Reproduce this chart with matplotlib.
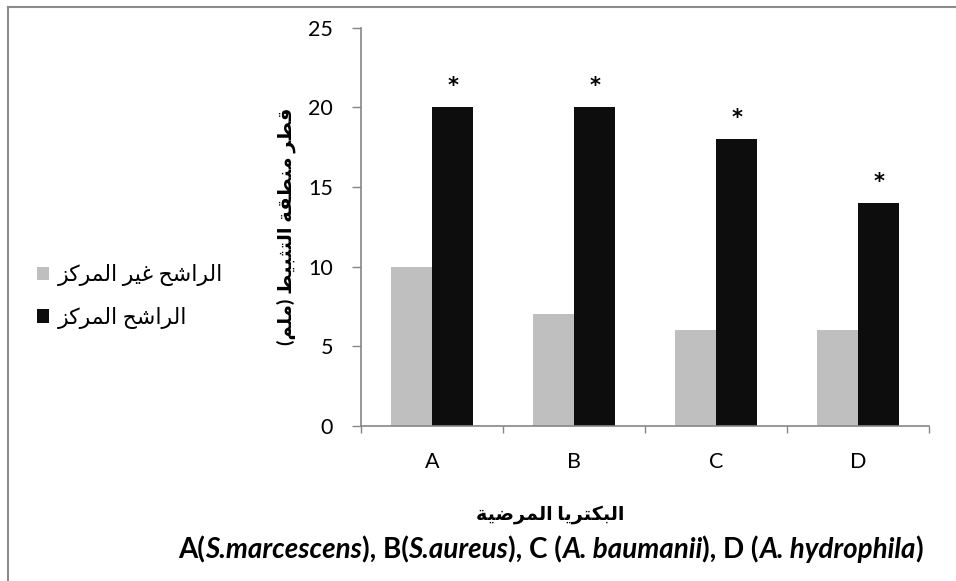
import matplotlib
matplotlib.use("Agg")
import matplotlib.pyplot as plt
from matplotlib.lines import Line2D

# ---- data ----
categories = ["A", "B", "C", "D"]
unconcentrated = [10, 7, 6, 6]
concentrated = [20, 20, 18, 14]
significant = ["*", "*", "*", "*"]

label_unconc = "الراشح غير المركز"
label_conc = "الراشح المركز"
y_title = "قطر منطقة التثبيط (ملم)"
x_title = "البكتريا المرضية"
x_subtitle = [("A(", "normal"), ("S.marcescens", "italic"), ("), B(", "normal"),
              ("S.aureus", "italic"), ("), C (", "normal"), ("A. baumanii", "italic"),
              ("), D (", "normal"), ("A. hydrophila", "italic"), (")", "normal")]

# Arabic presentation forms: (isolated, final, initial, medial)
FORMS = {
    'ا': ('\uFE8D', '\uFE8E', None, None),
    'ب': ('\uFE8F', '\uFE90', '\uFE91', '\uFE92'),
    'ة': ('\uFE93', '\uFE94', None, None),
    'ت': ('\uFE95', '\uFE96', '\uFE97', '\uFE98'),
    'ث': ('\uFE99', '\uFE9A', '\uFE9B', '\uFE9C'),
    'ح': ('\uFEA1', '\uFEA2', '\uFEA3', '\uFEA4'),
    'ر': ('\uFEAD', '\uFEAE', None, None),
    'ز': ('\uFEAF', '\uFEB0', None, None),
    'ش': ('\uFEB5', '\uFEB6', '\uFEB7', '\uFEB8'),
    'ض': ('\uFEBD', '\uFEBE', '\uFEBF', '\uFEC0'),
    'ط': ('\uFEC1', '\uFEC2', '\uFEC3', '\uFEC4'),
    'غ': ('\uFECD', '\uFECE', '\uFECF', '\uFED0'),
    'ق': ('\uFED5', '\uFED6', '\uFED7', '\uFED8'),
    'ك': ('\uFED9', '\uFEDA', '\uFEDB', '\uFEDC'),
    'ل': ('\uFEDD', '\uFEDE', '\uFEDF', '\uFEE0'),
    'م': ('\uFEE1', '\uFEE2', '\uFEE3', '\uFEE4'),
    'ن': ('\uFEE5', '\uFEE6', '\uFEE7', '\uFEE8'),
    'ي': ('\uFEF1', '\uFEF2', '\uFEF3', '\uFEF4'),
}


def shape_ar(text):
    """Joins Arabic letters and puts them in visual (left-to-right) order."""
    out = []
    for i, ch in enumerate(text):
        if ch not in FORMS:
            out.append(ch)
            continue
        prev = text[i - 1] if i > 0 else ''
        nxt = text[i + 1] if i + 1 < len(text) else ''
        join_prev = prev in FORMS and FORMS[prev][2] is not None
        join_next = FORMS[ch][2] is not None and nxt in FORMS
        iso, fin, ini, med = FORMS[ch]
        if join_prev and join_next:
            out.append(med)
        elif join_prev:
            out.append(fin)
        elif join_next:
            out.append(ini)
        else:
            out.append(iso)
    vis = ''.join(reversed(out))
    return vis.translate(str.maketrans('()', ')('))


FAM = ['Lato', 'DejaVu Sans']
plt.rcParams['font.family'] = FAM

fig = plt.figure(figsize=(9.56, 5.81), dpi=100)
ax = fig.add_axes([0.3776, 0.2673, 0.5942, 0.685])

x = list(range(len(categories)))
w = 0.29
b1 = ax.bar([i - w / 2 for i in x], unconcentrated, w, color='#bfbfbf',
            label=shape_ar(label_unconc))
b2 = ax.bar([i + w / 2 for i in x], concentrated, w, color='#0d0d0d',
            label=shape_ar(label_conc))

for i, v, s in zip(x, concentrated, significant):
    ax.annotate(s, (i + w / 2, v), xytext=(0, 11), textcoords='offset points',
                ha='center', va='baseline', fontsize=15, fontweight='bold',
                family='DejaVu Sans')

ax.set_xlim(-0.5, len(categories) - 0.5)
ax.set_ylim(0, 25)
ax.set_yticks([0, 5, 10, 15, 20, 25])
ax.set_xticks(x)
ax.set_xticklabels(categories)
ax.set_xticks([i + 0.5 for i in range(-1, len(categories))], minor=True)
ax.tick_params(axis='x', which='major', length=0, pad=19, labelsize=15.5)
ax.tick_params(axis='x', which='minor', length=5, color='#868686', width=1)
ax.tick_params(axis='y', length=6.5, color='#868686', width=1, labelsize=15.5, pad=13.5)

for side in ['top', 'right']:
    ax.spines[side].set_visible(False)
for side in ['left', 'bottom']:
    ax.spines[side].set_color('#868686')
    ax.spines[side].set_linewidth(1.2)

ax.set_ylabel(shape_ar(y_title), fontsize=14, fontweight='bold', labelpad=9)

fig.legend(handles=[b1, b2], loc='center left', bbox_to_anchor=(0.039, 0.49),
           frameon=False, fontsize=15.8, borderpad=0, borderaxespad=0,
           handlelength=0.55, handleheight=0.55, handletextpad=0.4,
           labelspacing=0.95)

fig.text(0.575, 0.1136, shape_ar(x_title), ha='center', va='center',
         fontsize=13.8, fontweight='bold')

prev = None
for txt, style in x_subtitle:
    if prev is None:
        prev = fig.text(0.186, 0.031, txt, ha='left', va='bottom', fontsize=20,
                        fontweight='bold', fontstyle=style)
    else:
        prev = ax.annotate(txt, xy=(1, 0), xycoords=prev, ha='left', va='bottom',
                           fontsize=20, fontweight='bold', fontstyle=style,
                           annotation_clip=False)

# outer border of the chart area
fig.add_artist(Line2D([8 / 956, 1], [1 - 7 / 581, 1 - 7 / 581],
                      transform=fig.transFigure, color='#8c8c8c', lw=1.5))
fig.add_artist(Line2D([8 / 956, 8 / 956], [0, 1 - 7 / 581],
                      transform=fig.transFigure, color='#8c8c8c', lw=1.5))

fig.savefig('out.png', dpi=100)
